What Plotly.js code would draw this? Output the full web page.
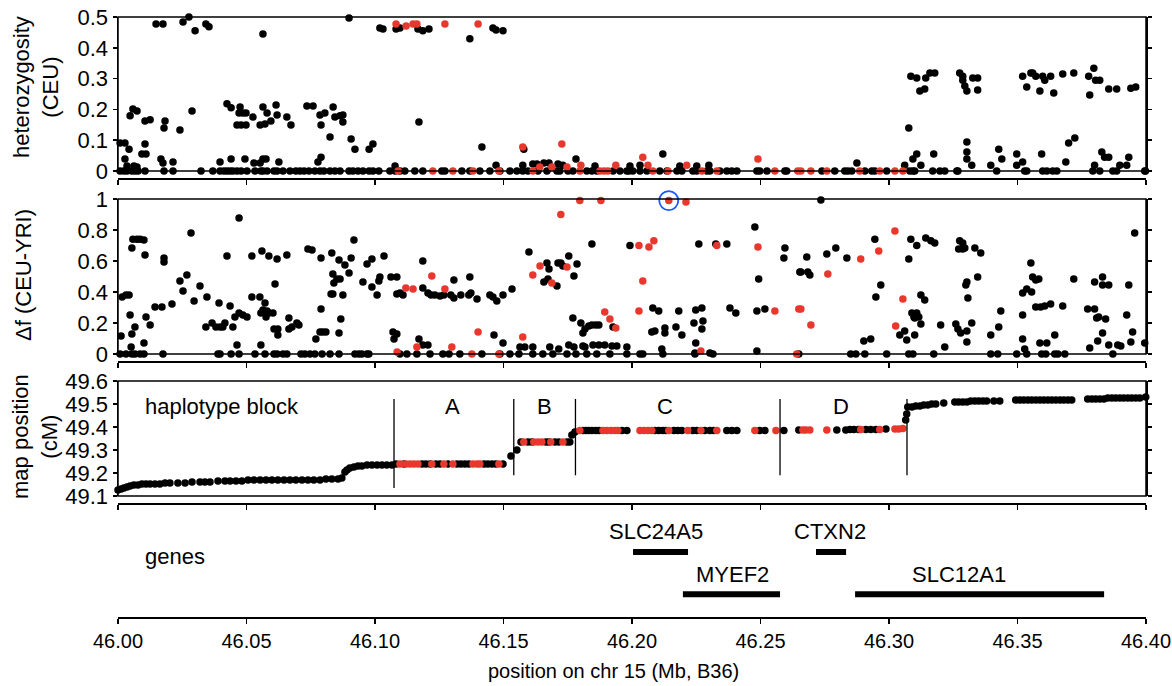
<!DOCTYPE html>
<html><head><meta charset="utf-8">
<script src="https://cdn.plot.ly/plotly-3.0.1.min.js"></script>
<style>html,body{margin:0;padding:0;background:#fff}#chart{width:1172px;height:686px}</style>
</head><body><div id="chart"></div>
<script>
// ---------------- DATA ----------------
const xTicks = [46.00, 46.05, 46.10, 46.15, 46.20, 46.25, 46.30, 46.35, 46.40];

// Panel 1: heterozygosity (CEU)  [position Mb, heterozygosity]
const hetBlack = [
[46.0148,0.477],[46.0175,0.477],[46.0253,0.484],[46.0276,0.5],[46.0300,0.455],[46.0342,0.477],[46.0354,0.468],[46.0564,0.445],[46.0899,0.497],[46.1019,0.464],[46.1031,0.461],[46.1082,0.461],[46.1097,0.464],[46.1167,0.461],[46.1186,0.455],[46.1210,0.461],[46.1369,0.429],[46.1459,0.464],[46.1471,0.458],[46.1498,0.455],
[46.0008,0.091],[46.0027,0.091],[46.0043,0.071],[46.0027,0.039],[46.0047,0.179],[46.0058,0.201],[46.0074,0.195],[46.0105,0.162],[46.0125,0.166],[46.0105,0.088],[46.0093,0.055],[46.0109,0.055],[46.0183,0.162],[46.0179,0.14],[46.0167,0.039],[46.0175,0.026],[46.0214,0.029],[46.0241,0.133],[46.0288,0.195],
[46.0424,0.218],[46.0440,0.205],[46.0475,0.208],[46.0471,0.188],[46.0463,0.149],[46.0479,0.149],[46.0498,0.149],[46.0486,0.188],[46.0498,0.188],[46.0525,0.175],[46.0564,0.208],[46.0580,0.188],[46.0553,0.149],[46.0572,0.153],[46.0595,0.162],[46.0615,0.214],[46.0619,0.182],[46.0657,0.175],[46.0673,0.149],
[46.0735,0.211],[46.0759,0.211],[46.0786,0.182],[46.0790,0.149],[46.0825,0.11],[46.0805,0.188],[46.0837,0.208],[46.0844,0.175],[46.0864,0.179],[46.0875,0.182],[46.0875,0.159],[46.0907,0.104],[46.0922,0.071],[46.0977,0.071],[46.0992,0.088],
[46.0035,0.016],[46.0062,0.016],[46.0074,0.013],[46.0397,0.029],[46.0440,0.039],[46.0494,0.039],[46.0529,0.026],[46.0553,0.026],[46.0564,0.039],[46.0576,0.039],[46.0626,0.029],[46.0778,0.029],[46.0790,0.045],[46.1078,0.016],
[46.1171,0.159],[46.1416,0.078],[46.1579,0.071],[46.1782,0.039],[46.2120,0.055],[46.1471,0.019],[46.1575,0.019],[46.1614,0.023],[46.1630,0.023],[46.1657,0.026],[46.1677,0.026],[46.1712,0.023],[46.1731,0.019],[46.1856,0.016],[46.1992,0.016],[46.2031,0.019],[46.2186,0.016],[46.2252,0.016],[46.2299,0.019],[46.2875,0.026],
[46.3077,0.14],[46.3085,0.308],[46.3108,0.302],[46.3143,0.302],[46.3159,0.318],[46.3178,0.318],[46.3120,0.26],[46.3139,0.266],[46.3275,0.318],[46.3287,0.308],[46.3287,0.295],[46.3295,0.276],[46.3303,0.26],[46.3326,0.302],[46.3345,0.302],[46.3345,0.263],[46.3520,0.308],[46.3536,0.273],[46.3552,0.318],[46.3559,0.318],[46.3571,0.308],[46.3587,0.26],[46.3598,0.308],[46.3606,0.295],[46.3629,0.308],[46.3641,0.253],[46.3676,0.315],[46.3719,0.318],[46.3777,0.308],[46.3781,0.247],[46.3797,0.334],[46.3804,0.295],[46.3820,0.295],[46.3855,0.266],[46.3886,0.266],[46.3941,0.269],[46.3960,0.273],
[46.3061,0.019],[46.3093,0.039],[46.3108,0.055],[46.3124,0.019],[46.3174,0.055],[46.3303,0.094],[46.3303,0.062],[46.3303,0.039],[46.3322,0.019],[46.3396,0.019],[46.3427,0.071],[46.3439,0.039],[46.3497,0.055],[46.3497,0.019],[46.3520,0.029],[46.3594,0.055],[46.3688,0.029],[46.3699,0.091],[46.3723,0.107],[46.3800,0.019],[46.3828,0.062],[46.3839,0.045],[46.3855,0.045],[46.3898,0.019],[46.3925,0.019],[46.3933,0.045],
[46.0008,0],[46.0023,0],[46.0035,0],[46.0054,0],[46.0066,0],[46.0078,0],[46.0105,0],[46.0179,0],[46.0214,0],[46.0323,0],[46.0369,0],[46.0397,0],[46.0412,0],[46.0424,0],[46.0436,0],[46.0447,0],[46.0463,0],[46.0479,0],[46.0502,0],[46.0533,0],[46.0556,0],[46.0564,0],[46.0580,0],[46.0607,0],[46.0619,0],[46.0642,0],[46.0669,0],[46.0692,0],[46.0708,0],[46.0724,0],[46.0743,0],[46.0766,0],[46.0786,0],[46.0801,0],[46.0825,0],[46.0844,0],[46.0864,0],[46.0899,0],[46.0914,0],[46.0934,0],[46.0953,0],[46.0977,0],[46.0992,0],[46.1015,0],[46.1058,0],[46.1078,0],
[46.1097,0],[46.1116,0],[46.1155,0],[46.1186,0],[46.1260,0],[46.1272,0],[46.1338,0],[46.1369,0],[46.1408,0],[46.1447,0],[46.1486,0],[46.1525,0],[46.1552,0],[46.1575,0],[46.1595,0],[46.1634,0],[46.1669,0],[46.1708,0],[46.1719,0],[46.1751,0],[46.1770,0],[46.1824,0],[46.1844,0],[46.1863,0],[46.1926,0],[46.1953,0],[46.1980,0],[46.1988,0],[46.2003,0],[46.2031,0],[46.2058,0],[46.2108,0],[46.2136,0],[46.2175,0],[46.2194,0],[46.2237,0],[46.2252,0],[46.2291,0],[46.2303,0],[46.2342,0],[46.2369,0],[46.2388,0],[46.2408,0],[46.2486,0],[46.2497,0],[46.2525,0],[46.2595,0],[46.2602,0],
[46.2739,0],[46.2789,0],[46.2828,0],[46.2840,0],[46.2855,0],[46.2906,0],[46.2933,0],[46.2945,0],[46.2991,0],[46.3081,0],[46.3093,0],[46.3100,0],[46.3170,0],[46.3198,0],[46.3217,0],[46.3264,0],[46.3268,0],[46.3419,0],[46.3528,0],[46.3536,0],[46.3598,0],[46.3614,0],[46.3637,0],[46.3653,0],[46.3793,0],[46.3820,0],[46.3871,0],[46.3886,0],[46.3995,0],[46.3998,0]
];
const hetRed = [
[46.1082,0.477],[46.1121,0.471],[46.1148,0.477],[46.1163,0.477],[46.1272,0.477],[46.1401,0.477],[46.1575,0.078],[46.1727,0.088],[46.2042,0.045],[46.2490,0.039],[46.1641,0.013],[46.1688,0.013],[46.1747,0.013],[46.1801,0.019],[46.1937,0.019],[46.2062,0.019],[46.2213,0.019],
[46.1090,0],[46.1225,0],[46.1303,0],[46.1381,0],[46.1482,0],[46.1614,0],[46.1797,0],[46.1875,0],[46.1891,0],[46.1906,0],[46.2081,0],[46.2140,0],[46.2272,0],[46.2330,0],[46.2556,0],[46.2645,0],[46.2657,0],[46.2696,0],[46.2758,0],[46.2886,0],[46.2964,0],[46.3023,0],[46.3054,0]
];

// Panel 2: delta f (CEU-YRI)
const dfBlack = [
[46.0012,0.116],[46.0016,0.368],[46.0031,0.381],[46.0043,0.381],[46.0047,0.252],[46.0054,0.684],[46.0058,0.74],[46.0074,0.74],[46.0086,0.74],[46.0054,0.129],[46.0066,0.174],[46.0051,0.045],[46.0101,0.735],[46.0105,0.639],[46.0109,0.239],[46.0125,0.187],[46.0101,0.071],[46.0144,0.303],[46.0171,0.303],[46.0179,0.619],[46.0179,0.594],[46.0210,0.323],[46.0241,0.471],[46.0253,0.406],[46.0268,0.51],[46.0284,0.78],[46.0296,0.342],[46.0319,0.439],[46.0346,0.368],[46.0342,0.174],[46.0366,0.2],[46.0381,0.174],[46.0397,0.174],[46.0408,0.174],[46.0416,0.2],[46.0393,0.329],[46.0424,0.632],[46.0436,0.31],[46.0447,0.174],[46.0455,0.239],[46.0471,0.265],[46.0486,0.252],[46.0502,0.239],[46.0471,0.877],[46.0463,0.058],
[46.0521,0.632],[46.0521,0.368],[46.0552,0.368],[46.0560,0.665],[46.0556,0.265],[46.0564,0.284],[46.0572,0.329],[46.0580,0.277],[46.0587,0.265],[46.0576,0.239],[46.0603,0.265],[46.0556,0.058],[46.0587,0.632],[46.0619,0.613],[46.0611,0.452],[46.0607,0.161],[46.0622,0.161],[46.0622,0.123],[46.0657,0.639],[46.0665,0.232],[46.0677,0.174],[46.0665,0.161],[46.0696,0.2],[46.0704,0.187],[46.0739,0.677],[46.0755,0.671],[46.0790,0.619],[46.0790,0.29],[46.0786,0.142],[46.0797,0.142],[46.0809,0.142],[46.0770,0.097],[46.0829,0.387],[46.0832,0.652],[46.0836,0.387],[46.0836,0.516],[46.0840,0.458],[46.0852,0.484],[46.0864,0.484],[46.0860,0.606],[46.0875,0.381],[46.0867,0.226],[46.0860,0.135],[46.0883,0.574],[46.0899,0.523],[46.0907,0.619],[46.0918,0.735],[46.0953,0.465],[46.0969,0.58],[46.0988,0.613],[46.0988,0.432],[46.1008,0.381],[46.1015,0.471],[46.1019,0.497],[46.1035,0.632],[46.1062,0.497],[46.1085,0.497],[46.1085,0.387],[46.1070,0.142],[46.1085,0.129],[46.1074,0.097],
[46.1844,0.71],[46.1992,0.70],[46.2260,0.71],[46.2326,0.71],[46.2369,0.71],[46.2478,0.82],[46.2595,0.684],[46.2591,0.619],[46.2653,0.529],[46.2493,0.484],[46.1599,0.658],[46.1186,0.60],[46.1097,0.394],[46.1109,0.381],[46.1186,0.426],[46.1206,0.394],[46.1218,0.381],[46.1233,0.381],[46.1253,0.374],[46.1268,0.381],[46.1307,0.477],[46.1295,0.381],[46.1307,0.361],[46.1334,0.381],[46.1369,0.497],[46.1365,0.381],[46.1373,0.394],[46.1397,0.355],[46.1447,0.381],[46.1459,0.368],[46.1474,0.342],[46.1498,0.381],[46.1533,0.419],
[46.1669,0.587],[46.1677,0.548],[46.1712,0.587],[46.1657,0.465],[46.1673,0.484],[46.1708,0.439],[46.1723,0.587],[46.1731,0.568],[46.1754,0.632],[46.1774,0.503],[46.1786,0.58],[46.2081,0.297],[46.2104,0.277],[46.2182,0.277],[46.2248,0.284],[46.2272,0.297],[46.2381,0.297],[46.2404,0.265],[46.2486,0.277],[46.2517,0.29],
[46.1770,0.232],[46.1801,0.2],[46.1809,0.135],[46.1817,0.161],[46.1832,0.181],[46.1844,0.187],[46.1859,0.187],[46.1871,0.187],[46.1926,0.174],[46.2077,0.142],[46.2089,0.148],[46.2128,0.168],[46.2128,0.135],[46.2171,0.174],[46.2194,0.123],[46.2241,0.2],[46.2276,0.213],[46.2272,0.161],[46.2248,0.071],
[46.1171,0.097],[46.1186,0.058],[46.1206,0.058],[46.1463,0.123],[46.1498,0.071],[46.1564,0.045],[46.1583,0.045],[46.1614,0.045],[46.1680,0.045],[46.1715,0.032],[46.1754,0.058],[46.1774,0.045],[46.1809,0.052],[46.1817,0.045],[46.1848,0.058],[46.1871,0.058],[46.1894,0.058],[46.1922,0.052],[46.1941,0.052],[46.1980,0.045],[46.2116,0.032],[46.2245,0.006],[46.2303,0.006],[46.2486,0.019],
[46.2735,0.994],[46.2657,0.529],[46.2684,0.529],[46.2692,0.51],[46.2680,0.626],[46.2758,0.645],[46.2793,0.684],[46.2836,0.619],[46.2945,0.74],[46.2949,0.368],[46.2968,0.445],[46.3085,0.74],[46.3108,0.70],[46.3077,0.613],[46.3143,0.748],[46.3163,0.73],[46.3178,0.716],[46.3124,0.381],[46.3139,0.348],[46.3089,0.265],[46.3108,0.265],[46.3097,0.239],[46.3100,0.232],[46.3116,0.239],[46.3124,0.194],[46.3042,0.123],[46.3061,0.148],[46.3069,0.09],[46.3100,0.123],[46.3201,0.187],[46.3217,0.045],
[46.3275,0.73],[46.3287,0.716],[46.3271,0.677],[46.3287,0.677],[46.3295,0.684],[46.3334,0.684],[46.3357,0.652],[46.3303,0.465],[46.3299,0.445],[46.3345,0.497],[46.3307,0.361],[46.3260,0.194],[46.3268,0.161],[46.3279,0.135],[46.3303,0.148],[46.3322,0.2],[46.3303,0.077],[46.3396,0.123],[46.3427,0.174],[46.3435,0.277],[46.3520,0.252],[46.3552,0.587],[46.3559,0.497],[46.3571,0.477],[46.3583,0.484],[46.3520,0.394],[46.3536,0.419],[46.3555,0.40],[46.3571,0.303],[46.3590,0.303],[46.3606,0.31],[46.3629,0.323],[46.3676,0.31],[46.3719,0.484],[46.3800,0.465],[46.3831,0.497],[46.3831,0.445],[46.3855,0.445],[46.3773,0.29],[46.3800,0.29],[46.3808,0.232],[46.3816,0.239],[46.3843,0.226],[46.3831,0.135],[46.3812,0.084],[46.3925,0.252],[46.3933,0.445],[46.3956,0.78],[46.3948,0.142],[46.3941,0.077],[46.3855,0.058],[46.3890,0.058],[46.3902,0.052],[46.3781,0.039],[46.3520,0.097],[46.3587,0.071],[46.3614,0.071],[46.3645,0.123],[46.3528,0.032],[46.2902,0.084],[46.2929,0.097],[46.3995,0.071],
[46.0008,0],[46.0031,0],[46.0054,0],[46.0066,0],[46.0086,0],[46.0101,0],[46.0175,0],[46.0389,0],[46.0397,0],[46.0440,0],[46.0471,0],[46.0533,0],[46.0572,0],[46.0607,0],[46.0619,0],[46.0642,0],[46.0657,0],[46.0712,0],[46.0727,0],[46.0747,0],[46.0766,0],[46.0794,0],[46.0825,0],[46.0860,0],[46.0922,0],[46.0937,0],[46.0949,0],[46.0969,0],[46.0976,0],
[46.1097,0],[46.1124,0],[46.1163,0],[46.1214,0],[46.1264,0],[46.1288,0],[46.1330,0],[46.1416,0],[46.1486,0],[46.1525,0],[46.1560,0],[46.1614,0],[46.1653,0],[46.1692,0],[46.1747,0],[46.1782,0],[46.1824,0],[46.1863,0],[46.1914,0],[46.1980,0],[46.2031,0],[46.2042,0],[46.2120,0],[46.2245,0],[46.2315,0],
[46.2649,0],[46.2851,0],[46.2871,0],[46.2906,0],[46.2991,0],[46.3077,0],[46.3093,0],[46.3174,0],[46.3396,0],[46.3423,0],[46.3497,0],[46.3536,0],[46.3594,0],[46.3610,0],[46.3645,0],[46.3657,0],[46.3684,0],[46.3871,0]
];
const dfRed = [
[46.1797,0.99],[46.1879,0.99],[46.2143,0.99],[46.2210,0.98],[46.1723,0.90],[46.2085,0.73],[46.2066,0.69],[46.2027,0.70],[46.2330,0.70],[46.2490,0.69],[46.2042,0.471],[46.1221,0.503],[46.1120,0.426],[46.1148,0.419],[46.1272,0.419],[46.1614,0.51],[46.1642,0.568],[46.1688,0.458],[46.1747,0.561],[46.1894,0.271],[46.1914,0.226],[46.1937,0.168],[46.2027,0.277],[46.2556,0.277],[46.2649,0.29],[46.1163,0.045],[46.1299,0.045],[46.1401,0.142],[46.1575,0.11],[46.2268,0.019],[46.1086,0.013],
[46.1377,0],[46.1482,0],[46.2641,0],
[46.3023,0.794],[46.2960,0.665],[46.2890,0.613],[46.2762,0.516],[46.2657,0.29],[46.2696,0.187],[46.3054,0.355],[46.3026,0.181]
];
const highlightSNP = [46.2143, 0.99];

// Panel 3: genetic map position (cM)
const mapBlack = [
[46.0000,49.126],[46.0012,49.130],[46.0023,49.135],[46.0035,49.139],[46.0047,49.143],[46.0062,49.148],[46.0078,49.148],[46.0093,49.152],[46.0109,49.152],[46.0125,49.152],[46.0144,49.152],[46.0163,49.152],[46.0183,49.157],[46.0202,49.157],[46.0233,49.157],[46.0261,49.157],[46.0288,49.161],[46.0319,49.161],[46.0338,49.161],[46.0358,49.161],[46.0389,49.165],[46.0416,49.165],[46.0436,49.165],[46.0459,49.165],[46.0482,49.165],[46.0506,49.170],[46.0529,49.170],[46.0553,49.170],[46.0576,49.170],[46.0599,49.170],[46.0622,49.170],[46.0646,49.170],[46.0669,49.170],[46.0692,49.170],[46.0716,49.170],[46.0739,49.170],[46.0762,49.170],[46.0786,49.170],[46.0809,49.174],[46.0832,49.174],[46.0856,49.174],[46.0871,49.178],
[46.0883,49.204],[46.0891,49.213],[46.0902,49.222],[46.0918,49.226],[46.0934,49.230],[46.0949,49.230],[46.0969,49.235],[46.0988,49.235],[46.1008,49.235],[46.1027,49.235],[46.1046,49.235],[46.1066,49.235],
[46.1082,49.239],[46.1113,49.239],[46.1183,49.239],[46.1198,49.239],[46.1214,49.239],[46.1237,49.239],[46.1253,49.239],[46.1284,49.239],[46.1319,49.239],[46.1334,49.239],[46.1350,49.239],[46.1365,49.239],[46.1424,49.239],[46.1439,49.239],[46.1455,49.239],[46.1470,49.239],[46.1498,49.239],
[46.1529,49.274],[46.1552,49.300],[46.1568,49.335],[46.1595,49.335],[46.1610,49.335],[46.1665,49.335],[46.1677,49.335],[46.1700,49.335],[46.1715,49.335],[46.1747,49.335],[46.1758,49.335],
[46.1766,49.365],[46.1778,49.378],[46.1809,49.385],[46.1821,49.385],[46.1832,49.385],[46.1844,49.385],[46.1859,49.385],[46.1871,49.385],[46.1961,49.385],[46.1980,49.385],[46.2089,49.385],[46.2104,49.385],[46.2120,49.385],[46.2132,49.385],[46.2163,49.385],[46.2178,49.385],[46.2194,49.385],[46.2237,49.385],[46.2252,49.385],[46.2283,49.385],[46.2303,49.385],[46.2318,49.385],[46.2369,49.385],[46.2388,49.385],[46.2408,49.385],[46.2497,49.385],[46.2517,49.385],[46.2591,49.385],
[46.2649,49.387],[46.2797,49.387],[46.2832,49.387],[46.2848,49.389],[46.2863,49.389],[46.2882,49.389],[46.2910,49.389],[46.2929,49.389],[46.2949,49.389],[46.2988,49.391],
[46.3065,49.430],[46.3069,49.457],[46.3073,49.487],[46.3089,49.487],[46.3104,49.491],[46.3120,49.491],[46.3135,49.496],[46.3151,49.496],[46.3166,49.500],[46.3182,49.500],[46.3213,49.504],[46.3256,49.509],[46.3271,49.509],[46.3287,49.509],[46.3303,49.509],[46.3318,49.513],[46.3334,49.513],[46.3349,49.513],[46.3365,49.513],[46.3380,49.513],[46.3408,49.513],[46.3431,49.513],
[46.3493,49.517],[46.3509,49.517],[46.3524,49.517],[46.3540,49.517],[46.3555,49.517],[46.3571,49.517],[46.3587,49.517],[46.3602,49.517],[46.3618,49.517],[46.3633,49.517],[46.3649,49.517],[46.3665,49.517],[46.3680,49.517],[46.3696,49.517],[46.3711,49.517],
[46.3773,49.522],[46.3789,49.522],[46.3804,49.522],[46.3820,49.522],[46.3836,49.522],[46.3851,49.526],[46.3867,49.526],[46.3882,49.526],[46.3898,49.526],[46.3913,49.526],[46.3929,49.526],[46.3944,49.526],[46.3960,49.526],[46.3976,49.526],[46.3999,49.530]
];
const mapRed = [
[46.1097,49.239],[46.1120,49.239],[46.1136,49.239],[46.1151,49.239],[46.1167,49.239],[46.1221,49.239],[46.1268,49.239],[46.1303,49.239],[46.1381,49.239],[46.1397,49.239],[46.1408,49.239],[46.1482,49.239],
[46.1579,49.335],[46.1618,49.335],[46.1634,49.335],[46.1649,49.335],[46.1684,49.335],[46.1731,49.335],
[46.1797,49.385],[46.1887,49.385],[46.1902,49.385],[46.1918,49.385],[46.1933,49.385],[46.1945,49.385],[46.2031,49.385],[46.2046,49.385],[46.2062,49.385],[46.2077,49.385],[46.2143,49.385],[46.2217,49.385],[46.2268,49.385],[46.2330,49.385],[46.2478,49.385],[46.2560,49.385],
[46.2665,49.387],[46.2676,49.387],[46.2692,49.387],[46.2758,49.387],[46.2890,49.389],[46.2964,49.389],[46.3023,49.391],[46.3038,49.391],[46.3054,49.393]
];

// haplotype block boundaries (Mb) and labels
const blockBounds = [46.1074, 46.1540, 46.1780, 46.2576, 46.3070];
const blockLabels = ['A', 'B', 'C', 'D'];
const blockLabelX = [46.1303, 46.1661, 46.2128, 46.2813];

// genes
const geneNames  = ['SLC24A5', 'MYEF2', 'CTXN2', 'SLC12A1'];
const geneStart  = [46.2004, 46.2198, 46.2716, 46.2868];
const geneEnd    = [46.2218, 46.2576, 46.2833, 46.3837];
const geneRow    = [1, 2, 1, 2];
const geneLabelX = [46.2093, 46.2392, 46.2770, 46.3271];

// ---------------- DRAW ----------------
const H = 686, W = 1172, ML = 118, MR = 26;
const PW = W - ML - MR;
const fy = py => 1 - py / H;
const fx = px => (px - ML) / PW;
const BLACK = '#000000', RED = '#e8372c';
const FONT = 'Liberation Sans, Arial, Helvetica, sans-serif';

function pts(arr, xa, ya, color) {
  return {type: 'scatter', mode: 'markers', x: arr.map(p => p[0]), y: arr.map(p => p[1]),
    xaxis: xa, yaxis: ya, cliponaxis: false, hoverinfo: 'skip', showlegend: false,
    marker: {color: color, size: 7.5, line: {width: 0}}};
}

const traces = [
  pts(hetBlack, 'x', 'y', BLACK), pts(hetRed, 'x', 'y', RED),
  pts(dfBlack, 'x2', 'y2', BLACK), pts(dfRed, 'x2', 'y2', RED),
  pts(mapBlack, 'x3', 'y3', BLACK), pts(mapRed, 'x3', 'y3', RED),
  {type: 'scatter', mode: 'markers', x: [highlightSNP[0]], y: [highlightSNP[1]], xaxis: 'x2', yaxis: 'y2',
   cliponaxis: false, hoverinfo: 'skip', showlegend: false,
   marker: {symbol: 'circle-open', size: 19, color: '#1f57ff', line: {width: 1.8, color: '#1f57ff'}}}
];

// gene bars
const rowY = {1: 0.57, 2: 0.20};
const rowLabelY = {1: 0.746, 2: 0.377};
const gx = [], gy = [];
geneNames.forEach((g, i) => { gx.push(geneStart[i], geneEnd[i], null); gy.push(rowY[geneRow[i]], rowY[geneRow[i]], null); });
traces.push({type: 'scatter', mode: 'lines', x: gx, y: gy, xaxis: 'x4', yaxis: 'y4', hoverinfo: 'skip',
  showlegend: false, line: {color: BLACK, width: 6}});

const xBase = {range: [46, 46.4], showline: true, linecolor: BLACK, linewidth: 1.5, ticks: 'outside',
  ticklen: 5, tickwidth: 1.5, tickcolor: BLACK, tickmode: 'array', tickvals: xTicks, showgrid: false,
  zeroline: false, fixedrange: true, anchor: 'free', domain: [0, 1]};
const yBase = {showline: true, linecolor: BLACK, linewidth: 1.5, mirror: 'ticks', ticks: 'outside',
  ticklen: 4, tickwidth: 1.5, tickcolor: BLACK, showgrid: false, zeroline: false, fixedrange: true,
  tickfont: {size: 22, family: FONT, color: BLACK}};

const shapes = [];
['y', 'y2', 'y3'].forEach((ya, i) => {
  const xr = i === 0 ? 'x' : 'x' + (i + 1);
  shapes.push({type: 'rect', xref: xr + ' domain', yref: ya + ' domain', x0: 0, x1: 1, y0: 0, y1: 1,
    line: {color: BLACK, width: 1.5}, fillcolor: 'rgba(0,0,0,0)'});
});
blockBounds.forEach((b, i) => {
  shapes.push({type: 'line', xref: 'x3', yref: 'y3', x0: b, x1: b, y0: i === 0 ? 49.135 : 49.19, y1: 49.522,
    line: {color: BLACK, width: 1.3}});
});

const annotations = [];
const ann = (o, size) => annotations.push(Object.assign({showarrow: false, font: {family: FONT, size: size || 22, color: BLACK}}, o));
ann({xref: 'paper', yref: 'paper', x: fx(36), y: fy(87), text: 'heterozygosity<br>(CEU)', textangle: -90, xanchor: 'center', yanchor: 'middle'});
ann({xref: 'paper', yref: 'paper', x: fx(23), y: fy(275), text: 'Δf (CEU-YRI)', textangle: -90, xanchor: 'center', yanchor: 'middle'});
ann({xref: 'paper', yref: 'paper', x: fx(35), y: fy(437), text: 'map position<br>(cM)', textangle: -90, xanchor: 'center', yanchor: 'middle'});
ann({xref: 'paper', yref: 'paper', x: fx(613), y: fy(671), text: 'position on chr 15 (Mb, B36)', xanchor: 'center', yanchor: 'middle'}, 20);
ann({xref: 'x3', yref: 'y3', x: 46.0405, y: 49.487, text: 'haplotype block', xanchor: 'center', yanchor: 'middle'});
blockLabels.forEach((l, i) => ann({xref: 'x3', yref: 'y3', x: blockLabelX[i], y: 49.487, text: l, xanchor: 'center', yanchor: 'middle'}));
ann({xref: 'x4', yref: 'y4', x: 46.0222, y: 0.535, text: 'genes', xanchor: 'center', yanchor: 'middle'});
geneNames.forEach((g, i) => ann({xref: 'x4', yref: 'y4', x: geneLabelX[i], y: rowLabelY[geneRow[i]], text: g, xanchor: 'center', yanchor: 'middle'}));

const layout = {
  width: W, height: H, margin: {l: ML, r: MR, t: 0, b: 0}, paper_bgcolor: '#fff', plot_bgcolor: '#fff',
  showlegend: false, font: {family: FONT, size: 21, color: BLACK},
  xaxis:  Object.assign({}, xBase, {position: fy(178), showticklabels: false}),
  xaxis2: Object.assign({}, xBase, {position: fy(361), showticklabels: false}),
  xaxis3: Object.assign({}, xBase, {position: fy(503), showticklabels: false}),
  xaxis4: Object.assign({}, xBase, {position: fy(617), showticklabels: true, tickformat: '.2f',
           ticklabeloverflow: 'allow', tickfont: {size: 20, family: FONT, color: BLACK}}),
  yaxis:  Object.assign({}, yBase, {anchor: 'x', domain: [fy(171), fy(17)], range: [0, 0.5], tickmode: 'array', tickvals: [0, 0.1, 0.2, 0.3, 0.4, 0.5], ticktext: ['0', '0.1', '0.2', '0.3', '0.4', '0.5']}),
  yaxis2: Object.assign({}, yBase, {anchor: 'x2', domain: [fy(354), fy(199)], range: [0, 1], tickmode: 'array', tickvals: [0, 0.2, 0.4, 0.6, 0.8, 1], ticktext: ['0', '0.2', '0.4', '0.6', '0.8', '1']}),
  yaxis3: Object.assign({}, yBase, {anchor: 'x3', domain: [fy(496), fy(381)], range: [49.1, 49.6], tickmode: 'array', tickvals: [49.1, 49.2, 49.3, 49.4, 49.5, 49.6], ticktext: ['49.1', '49.2', '49.3', '49.4', '49.5', '49.6']}),
  yaxis4: {anchor: 'x4', domain: [fy(617), fy(503)], range: [0, 1], visible: false, fixedrange: true},
  shapes: shapes, annotations: annotations
};

Plotly.newPlot('chart', traces, layout, {staticPlot: true, displayModeBar: false});
</script>
</body></html>
